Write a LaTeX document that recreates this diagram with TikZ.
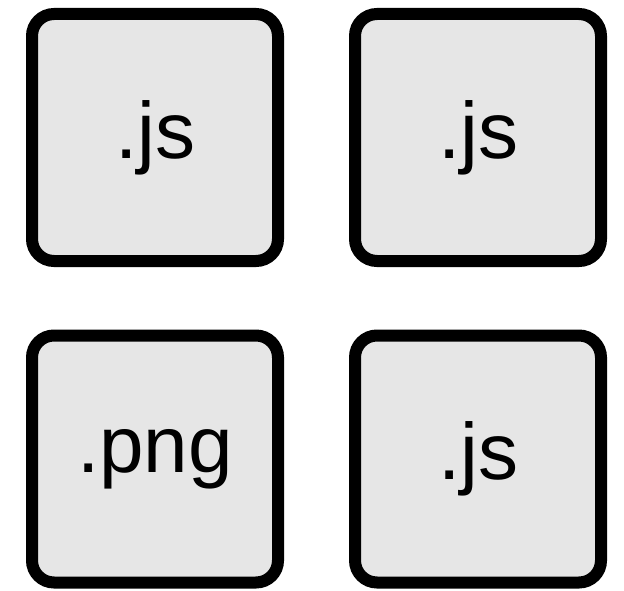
\documentclass[tikz,border=0pt]{standalone}
\usepackage{fontspec}
\setmainfont{Liberation Sans}
\definecolor{boxfill}{HTML}{E6E6E6}
\begin{document}
\begin{tikzpicture}[x=1pt,y=-1pt,
  filebox/.style={draw=black, line width=12pt, fill=boxfill, rounded corners=22pt,
    minimum width=246pt, minimum height=247pt, inner sep=0pt, outer sep=0pt,
    font=\fontsize{80}{90}\selectfont}]
\useasboundingbox (0,0) rectangle (624,591);
\node[filebox] (a) at (155,137.5) {.js};
\node[filebox] (b) at (478,137.5) {.js};
\node[filebox] (c) at (155,459) {.png};
\node[filebox] (d) at (478,459) {.js};
\end{tikzpicture}
\end{document}
